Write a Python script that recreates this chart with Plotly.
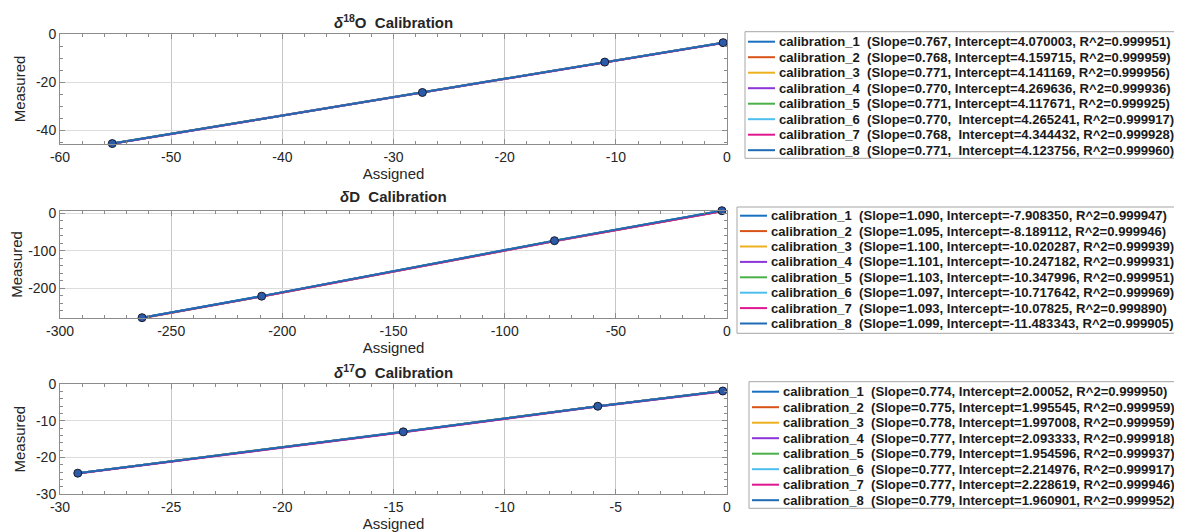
import plotly.graph_objects as go

# ---------------- data ----------------
names = [f"calibration_{i}" for i in range(1, 9)]
colors = ["#1a70c0", "#D95319", "#EDB120", "#8c35d8", "#4cb04a", "#4DBEEE", "#e0168f", "#1f6cb5"]

# delta 18O
o18_assigned = [-55.3, -27.4, -11.0, -0.35]
o18_measured = [
    [-45.60, -24.35, -11.70, -3.60],
    [-45.65, -24.35, -11.72, -3.62],
    [-45.62, -24.33, -11.70, -3.60],
    [-45.66, -24.38, -11.74, -3.64],
    [-45.63, -24.34, -11.71, -3.61],
    [-45.68, -24.40, -11.76, -3.66],
    [-45.70, -24.42, -11.78, -3.70],
    [-45.62, -24.34, -11.70, -3.60],
]
o18_labels = [
    "calibration_1  (Slope=0.767, Intercept=4.070003, R^2=0.999951)",
    "calibration_2  (Slope=0.768, Intercept=4.159715, R^2=0.999959)",
    "calibration_3  (Slope=0.771, Intercept=4.141169, R^2=0.999956)",
    "calibration_4  (Slope=0.770, Intercept=4.269636, R^2=0.999936)",
    "calibration_5  (Slope=0.771, Intercept=4.117671, R^2=0.999925)",
    "calibration_6  (Slope=0.770,  Intercept=4.265241, R^2=0.999917)",
    "calibration_7  (Slope=0.768,  Intercept=4.344432, R^2=0.999928)",
    "calibration_8  (Slope=0.771,  Intercept=4.123756, R^2=0.999960)",
]

# delta D
dD_assigned = [-263.1, -209.3, -77.6, -2.3]
dD_measured = [
    [-278.4, -221.0, -73.0, 7.0],
    [-279.5, -222.0, -74.5, 5.5],
    [-279.0, -221.6, -74.0, 6.0],
    [-278.8, -221.4, -73.8, 6.2],
    [-278.6, -221.2, -73.4, 6.6],
    [-278.7, -221.3, -73.5, 6.5],
    [-279.2, -221.8, -74.2, 5.8],
    [-278.3, -220.8, -72.8, 7.2],
]
dD_labels = [
    "calibration_1  (Slope=1.090, Intercept=-7.908350, R^2=0.999947)",
    "calibration_2  (Slope=1.095, Intercept=-8.189112, R^2=0.999946)",
    "calibration_3  (Slope=1.100, Intercept=-10.020287, R^2=0.999939)",
    "calibration_4  (Slope=1.101, Intercept=-10.247182, R^2=0.999931)",
    "calibration_5  (Slope=1.103, Intercept=-10.347996, R^2=0.999951)",
    "calibration_6  (Slope=1.097, Intercept=-10.717642, R^2=0.999969)",
    "calibration_7  (Slope=1.093, Intercept=-10.07825, R^2=0.999890)",
    "calibration_8  (Slope=1.099, Intercept=-11.483343, R^2=0.999905)",
]

# delta 17O
o17_assigned = [-29.2, -14.56, -5.81, -0.19]
o17_measured = [
    [-24.30, -13.00, -6.00, -1.83],
    [-24.32, -13.02, -6.02, -1.85],
    [-24.31, -13.01, -6.01, -1.84],
    [-24.33, -13.03, -6.03, -1.86],
    [-24.31, -13.01, -6.01, -1.84],
    [-24.35, -13.05, -6.05, -1.88],
    [-24.40, -13.10, -6.10, -1.95],
    [-24.30, -13.00, -6.00, -1.83],
]
o17_labels = [
    "calibration_1  (Slope=0.774, Intercept=2.00052, R^2=0.999950)",
    "calibration_2  (Slope=0.775, Intercept=1.995545, R^2=0.999959)",
    "calibration_3  (Slope=0.778, Intercept=1.997008, R^2=0.999959)",
    "calibration_4  (Slope=0.777, Intercept=2.093333, R^2=0.999918)",
    "calibration_5  (Slope=0.779, Intercept=1.954596, R^2=0.999937)",
    "calibration_6  (Slope=0.777, Intercept=2.214976, R^2=0.999917)",
    "calibration_7  (Slope=0.777, Intercept=2.228619, R^2=0.999946)",
    "calibration_8  (Slope=0.779, Intercept=1.960901, R^2=0.999952)",
]

# mean measured points (markers)
o18_points = [-45.62, -24.35, -11.70, -3.60]
dD_points = [-278.4, -221.0, -73.0, 7.0]
o17_points = [-24.30, -13.00, -6.00, -1.83]

# tick values
o18_xticks = [-60, -50, -40, -30, -20, -10, 0]
o18_yticks = [-40, -20, 0]
dD_xticks = [-300, -250, -200, -150, -100, -50, 0]
dD_yticks = [-200, -100, 0]
o17_xticks = [-30, -25, -20, -15, -10, -5, 0]
o17_yticks = [-30, -20, -10, 0]

titles = ["<b><i>δ</i><sup>18</sup>O \u00a0Calibration</b>",
          "<b><i>δ</i>D \u00a0Calibration</b>",
          "<b><i>δ</i><sup>17</sup>O \u00a0Calibration</b>"]

# ---------------- layout geometry (page pixels) ----------------
OFF = 8                      # default page margin around the plot div
W, H = 1182 - OFF, 532 - OFF
def py(p):
    return 1 - (p - OFF) / H
def px_(p):
    return (p - OFF) / W

x_dom = [px_(60), px_(727)]
y_doms = [[py(144), py(34)], [py(318.3), py(210.7)], [py(494), py(384.3)]]
title_y = [21.5, 196.7, 371.7]
# legend boxes: (left, top, bottom, first-row centre, row step, text start)
legend_geo = [
    (745, 31.7, 158.3, 41.7, 15.5, 777),
    (737, 207.0, 333.3, 215.7, 15.4, 769),
    (749, 381.7, 508.3, 391.7, 15.5, 781),
]

x_ranges = [[-60, 0], [-300, 0], [-30, 0]]
y_ranges = [[-45.8, 0], [-280, 7], [-30, 0]]
x_minor = [2, 10, 1]
y_minor = [5, 20, 2]

FONT = "Liberation Sans, Arial, sans-serif"
TXT = "#262626"
AX = "#8c8c8c"

fig = go.Figure()

panels = [
    (o18_assigned, o18_measured, o18_labels, o18_points, o18_xticks, o18_yticks),
    (dD_assigned, dD_measured, dD_labels, dD_points, dD_xticks, dD_yticks),
    (o17_assigned, o17_measured, o17_labels, o17_points, o17_xticks, o17_yticks),
]

layout = dict(
    width=W, height=H,
    margin=dict(l=0, r=0, t=0, b=0, autoexpand=False),
    paper_bgcolor="white", plot_bgcolor="white",
    font=dict(family=FONT, color=TXT, size=13),
    showlegend=False,
    annotations=[], shapes=[],
)

axis_common = dict(
    showline=True, linecolor=AX, linewidth=1, mirror="ticks",
    ticks="inside", ticklen=5, tickcolor=AX,
    showgrid=True, gridwidth=1,
    zeroline=False, tickfont=dict(size=14, color=TXT),
)

for p, (xa, meas, labels, pts, xt, yt) in enumerate(panels):
    xref = "x" if p == 0 else f"x{p+1}"
    yref = "y" if p == 0 else f"y{p+1}"
    for i in range(8):
        fig.add_trace(go.Scatter(
            x=xa, y=meas[i], mode="lines", name=labels[i],
            line=dict(color=colors[i], width=2),
            xaxis=xref, yaxis=yref,
        ))
    fig.add_trace(go.Scatter(
        x=xa, y=pts, mode="markers", showlegend=False, name="points",
        marker=dict(color="#2b5aa8", size=8, line=dict(color="#1a1a2a", width=1)),
        cliponaxis=False, xaxis=xref, yaxis=yref,
    ))

    xk = "xaxis" if p == 0 else f"xaxis{p+1}"
    yk = "yaxis" if p == 0 else f"yaxis{p+1}"
    layout[xk] = dict(axis_common, domain=x_dom, range=x_ranges[p], gridcolor="#c6c6c6",
                      tickmode="array", tickvals=xt, ticktext=[str(v) for v in xt],
                      anchor=yref,
                      minor=dict(ticks="inside", ticklen=3, tickmode="linear", dtick=x_minor[p],
                                 tick0=0, tickcolor=AX, showgrid=False),
                      title=dict(text="Assigned", font=dict(size=15, color=TXT), standoff=3))
    layout[yk] = dict(axis_common, domain=y_doms[p], range=y_ranges[p], gridcolor="#dcdcdc",
                      tickmode="array", tickvals=yt, ticktext=[str(v) for v in yt],
                      anchor=xref,
                      minor=dict(ticks="inside", ticklen=3, tickmode="linear", dtick=y_minor[p],
                                 tick0=0, tickcolor=AX, showgrid=False),
                      title=dict(text="Measured", font=dict(size=15, color=TXT), standoff=6))
    layout["annotations"].append(dict(
        text=titles[p], x=(x_dom[0] + x_dom[1]) / 2, y=py(title_y[p]),
        xref="paper", yref="paper", showarrow=False, xanchor="center", yanchor="middle",
        font=dict(size=15, color=TXT, family=FONT)))

    # legend box drawn for this panel
    left, top, bottom, row0, step, tx = legend_geo[p]
    layout["shapes"].append(dict(
        type="rect", xref="paper", yref="paper",
        x0=px_(left), x1=px_(1181.5), y0=py(bottom), y1=py(top),
        line=dict(color="#a6a6a6", width=1), fillcolor="white", layer="above"))
    for i in range(8):
        yc = row0 + i * step
        layout["shapes"].append(dict(
            type="line", xref="paper", yref="paper",
            x0=px_(left + 3), x1=px_(tx - 2), y0=py(yc), y1=py(yc),
            line=dict(color=colors[i], width=2), layer="above"))
        layout["annotations"].append(dict(
            text="<b>" + labels[i].replace("  ", " \u00a0") + "</b>",
            x=px_(tx), y=py(yc), xref="paper", yref="paper", showarrow=False,
            xanchor="left", yanchor="middle", align="left",
            font=dict(size=13.1, color="#1a1a1a", family=FONT)))

fig.update_layout(layout)
fig.write_html("out.html")
